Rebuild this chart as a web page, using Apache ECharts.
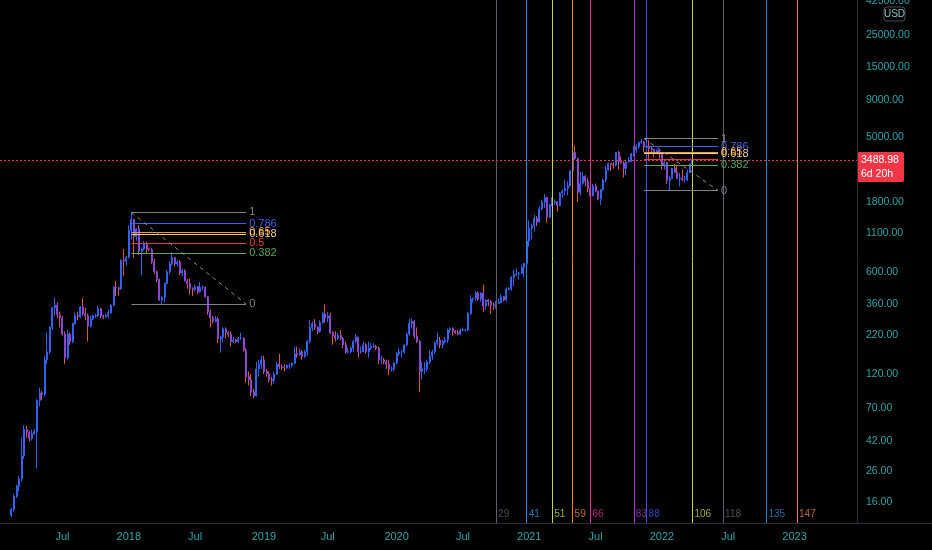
<!DOCTYPE html>
<html>
<head>
<meta charset="utf-8">
<script src="https://cdn.jsdelivr.net/npm/echarts@6/dist/echarts.min.js"></script>
<style>
  html, body { margin: 0; padding: 0; background: #000; }
  #chart { width: 932px; height: 550px; }
</style>
</head>
<body>
<div id="chart"></div>
<script>
// ETHUSD weekly candles, one row per week: [open, close, low, high]
var firstWeek = '2017-02-13';
var eth2017 = [
  [13.0,14.2,12.6,14.6],[14.2,17.5,13.8,18.2],[17.5,20.5,17.0,21.0],[20.5,23.0,19.0,24.0],
  [23.0,33.0,22.0,44.0],[33.0,50.0,31.5,53.5],[50.0,48.0,44.0,53.0],[48.0,43.5,41.5,49.0],
  [43.5,47.0,42.0,50.0],[47.0,48.5,46.0,50.5],[48.5,79.0,27.0,81.0],[79.0,89.0,72.0,97.0],
  [89.0,87.0,80.0,92.0],[87.0,150,84.0,160],[150,170,140,230],[170,250,165,255],
  [250,340,240,345],[340,355,300,400],[355,305,290,370],[305,290,250,320],
  [290,225,220,300],[225,155,140,235],[155,225,150,240],[225,200,190,230],
  [200,265,195,270],[265,300,260,315],[300,295,280,320],[295,345,290,350],
  [345,310,300,395],[310,300,280,340],[300,255,200,310],[255,285,250,300],
  [285,300,280,305],[300,300,290,310],[300,335,295,350],[335,300,290,340],
  [300,295,285,305],[295,300,290,310],[300,315,290,330],[315,355,310,360],
  [355,470,350,480],[470,465,410,520],[465,460,410,475],[460,720,450,730],
  [720,710,560,860],[710,755,660,770]
];
var eth2018 = [
  [755,1150,740,1250],[1150,1370,1000,1530],[1370,1050,750,1380],[1050,1180,980,1190],
  [1180,830,780,1250],[830,860,570,880],[860,940,840,975],[940,860,800,960],
  [860,850,830,880],[850,700,680,870],[700,600,580,735],[600,530,510,610],
  [530,385,380,540],[385,400,360,410],[400,500,370,505],[500,600,495,620],
  [600,680,580,710],[680,750,660,815],[750,680,650,760],[680,700,650,720],
  [700,590,570,720],[590,610,560,630],[610,520,515,625],[520,500,460,535],
  [500,460,420,540],[460,455,410,470],[455,475,440,490],[475,440,425,480],
  [440,470,430,510],[470,470,450,485],[470,405,400,475],[405,320,305,410],
  [320,290,250,330],[290,275,265,300],[275,285,270,300],[285,210,195,295],
  [210,215,168,220],[215,245,200,250],[245,230,210,250],[230,225,215,235],
  [225,200,185,235],[200,205,195,215],[205,200,195,208],[200,210,195,215],
  [210,210,205,230],[210,175,170,215],[175,115,105,180],[115,110,100,125],
  [110,90,85,120],[90,85,82,95],[85,130,84,145],[130,140,115,150],
  [140,150,130,160]
];
var eth2019 = [
  [150,125,120,160],[125,120,115,130],[120,110,105,125],[110,108,100,115],
  [108,120,103,125],[120,140,118,145],[140,135,130,165],[135,133,128,140],
  [133,132,125,140],[132,137,130,140],[137,137,130,142],[137,142,133,145],
  [142,165,140,185],[165,162,155,185],[162,170,160,180],[170,158,150,175],
  [158,170,155,175],[170,200,160,205],[200,250,195,280],[250,265,235,275],
  [265,250,240,285],[250,235,225,255],[235,270,230,280],[270,310,265,320],
  [310,290,270,360],[290,300,270,320],[300,230,225,315],[230,220,190,235],
  [220,210,200,235],[210,220,205,230],[220,210,205,240],[210,190,180,215],
  [190,170,165,200],[170,170,165,180],[170,180,165,185],[180,200,170,205],
  [200,215,195,225],[215,170,155,215],[170,170,165,185],[170,190,170,200],
  [190,170,165,195],[170,180,155,200],[180,185,175,195],[185,185,180,195],
  [185,180,175,190],[180,150,140,185],[150,150,140,160],[150,145,140,155],
  [145,140,130,150],[140,130,118,150],[130,130,125,135],[130,143,125,145]
];
var eth2020 = [
  [143,165,140,170],[165,170,160,180],[170,170,155,175],[170,190,165,190],
  [190,225,185,230],[225,265,220,285],[265,275,245,288],[275,218,210,280],
  [218,200,195,250],[200,125,90,205],[125,130,110,145],[130,130,120,145],
  [130,145,125,150],[145,160,140,175],[160,170,150,175],[170,195,165,200],
  [195,205,190,230],[205,190,180,215],[190,200,180,205],[200,205,195,215],
  [205,240,195,245],[240,245,230,250],[245,235,220,250],[235,230,225,240],
  [230,225,220,240],[225,240,220,245],[240,240,235,250],[240,240,235,245],
  [240,310,235,320],[310,390,305,415],[390,395,370,400],[395,430,380,445],
  [430,390,380,440],[390,430,375,435],[430,350,320,490],[350,385,330,390],
  [385,375,350,390],[375,355,310,385],[355,350,330,370],[350,365,335,380],
  [365,370,360,395],[370,405,365,420],[405,385,375,410],[385,455,375,470],
  [455,460,450,470],[460,550,445,560],[550,575,480,620],[575,580,560,635],
  [580,585,530,600],[585,640,580,670],[640,685,550,690],[685,975,685,1000]
];
var eth2021 = [
  [975,1190,890,1350],[1190,1230,1000,1280],[1230,1390,1130,1470],[1390,1315,1230,1440],
  [1315,1615,1300,1690],[1615,1800,1580,1870],[1800,1935,1640,2040],[1935,1420,1300,1960],
  [1420,1730,1400,1740],[1730,1790,1680,1940],[1790,1810,1720,1880],[1810,1700,1550,1820],
  [1700,2080,1690,2100],[2080,2140,1930,2200],[2140,2240,2000,2550],[2240,2320,2000,2500],
  [2320,2950,2300,2950],[2950,3930,2950,3970],[3930,3580,3500,4380],[3580,2100,1800,3580],
  [2100,2420,2000,2900],[2420,2700,2350,2900],[2700,2500,2300,2750],[2500,2240,2100,2620],
  [2240,1980,1700,2240],[1980,2320,1980,2400],[2320,2140,2100,2410],[2140,1900,1850,2150],
  [1900,2190,1720,2200],[2190,2550,2150,2600],[2550,3010,2450,3180],[3010,3310,2950,3330],
  [3310,3240,2950,3330],[3240,3220,3050,3370],[3220,3930,3160,3950],[3930,3410,3000,4030],
  [3410,3330,3300,3680],[3330,3060,2650,3450],[3060,3390,2750,3470],[3390,3410,3350,3650],
  [3410,3850,3390,3900],[3850,4080,3680,4370],[4080,4290,3900,4460],[4290,4610,4150,4660],
  [4610,4650,4500,4870],[4650,4270,3950,4660],[4270,4290,3940,4550],[4290,4190,3500,4780],
  [4190,4130,3920,4350],[4130,3920,3650,4140],[3920,4070,3900,4130],[4070,3830,3580,4130]
];
var eth2022 = [
  [3830,3190,3000,3880],[3190,3350,3000,3420],[3350,2540,2400,3400],[2540,2600,2160,2720],
  [2600,3060,2600,3080],[3060,2880,2860,3280],[2880,2620,2580,3200],[2620,2630,2300,2850],
  [2630,2550,2500,3000],[2550,2570,2450,2730],[2570,2860,2500,3000],[2860,3290,2850,3300],
  [3290,3488.98,3280,3490]
];
var lastPrice = 3488.98;
var countdown = '6d 20h';

// right scale labels
var yTicks = [16, 26, 42, 70, 120, 220, 360, 600, 1100, 1800, 5000, 9000, 15000, 25000, 42500];

// fib retracements: [from week, to week, high, low]
var fibLevels = [1, 0.786, 0.65, 0.618, 0.5, 0.382, 0];
var fib2018 = ['2018-01-08', '2018-11-19', 1530, 361];
var fib2021 = ['2021-11-15', '2022-06-06', 4900, 2160];

// time zones, counted in weeks from the covid low
var tzBase = '2020-03-16';
var tzCounts = [29, 41, 51, 59, 66, 83, 88, 106, 118, 135, 147];

var font = "'Liberation Sans',Arial,sans-serif";
var teal = '#2fa4a8';
var upCol = '#3361f0', downBody = '#8a47d2', downWick = '#d9583f';
var fibColors = ['#80838c', '#3f63e8', '#f39a2c', '#e9cf8c', '#e23a4c', '#5aa65c', '#80838c'];
var tzColors = ['#5d606b', '#2a8fe0', '#b9d75a', '#e8893a', '#e12f93', '#9b3dcc', '#3a56ea',
                '#b9d75a', '#5d606b', '#2a86c8', '#e0843c'];

var cats = [];
var t0 = Date.UTC(2017, 0, 16);
for (var i = 0; i < 336; i++) cats.push(new Date(t0 + i * 7 * 864e5).toISOString().slice(0, 10));

var rows = eth2017.concat(eth2018, eth2019, eth2020, eth2021, eth2022);
var first = cats.indexOf(firstWeek);
var wickData = [], bodyData = [];
cats.forEach(function (c, i) {
  var r = rows[i - first];
  if (i < first || !r) {
    wickData.push(['-', '-', '-', '-']);
    bodyData.push(['-', '-', '-', '-']);
    return;
  }
  wickData.push(r);
  bodyData.push([r[0], r[1], Math.min(r[0], r[1]), Math.max(r[0], r[1])]);
});

function fibLines(f, hideHalf) {
  var out = fibLevels.map(function (lv, k) {
    var p = f[3] + (f[2] - f[3]) * lv;
    return [{
      coord: [f[0], p],
      lineStyle: { color: fibColors[k], width: 1, type: 'solid' },
      label: {
        show: !(hideHalf && lv === 0.5), position: 'end', formatter: String(lv),
        color: fibColors[k], fontSize: 11, fontFamily: font, distance: 3
      }
    }, { coord: [f[1], p] }];
  });
  out.push([{
    coord: [f[0], f[2]],
    lineStyle: { color: '#8a8d96', width: 1, type: [4, 4] },
    label: { show: false }
  }, { coord: [f[1], f[3]] }]);
  return out;
}

var tzStart = cats.indexOf(tzBase);
var tzLines = tzCounts.map(function (n, k) {
  return { xAxis: cats[tzStart + n], lineStyle: { color: tzColors[k], width: 1, type: 'solid' }, label: { show: false } };
});
var tzLabels = tzCounts.map(function (n, k) {
  return { value: [cats[tzStart + n], 13.2], name: String(n), label: { color: tzColors[k] } };
});

var chart = echarts.init(document.getElementById('chart'));
var option = {
  backgroundColor: '#000',
  animation: false,
  textStyle: { fontFamily: font },
  grid: { left: 0, right: 75, top: 0, bottom: 27, containLabel: false, outerBoundsMode: 'none' },
  xAxis: {
    type: 'category',
    data: cats,
    boundaryGap: true,
    axisLine: { show: true, lineStyle: { color: '#2a2e39' } },
    axisTick: { show: false },
    splitLine: { show: false },
    axisLabel: {
      color: teal, fontSize: 11, fontFamily: font, margin: 8, hideOverlap: false,
      interval: function (idx, val) {
        var d = new Date(val + 'T00:00:00Z');
        return (d.getUTCMonth() === 0 || d.getUTCMonth() === 6) && d.getUTCDate() <= 7;
      },
      formatter: function (val) {
        var d = new Date(val + 'T00:00:00Z');
        return d.getUTCMonth() === 0 ? String(d.getUTCFullYear()) : 'Jul';
      }
    }
  },
  yAxis: {
    type: 'log',
    logBase: 10,
    position: 'right',
    min: 11.48,
    max: 43390,
    axisLine: { show: true, lineStyle: { color: '#2a2e39' } },
    axisTick: { show: false },
    splitLine: { show: false },
    axisLabel: {
      customValues: yTicks,
      color: teal, fontSize: 10.5, fontFamily: font, margin: 9,
      formatter: function (v) { return Number(v).toFixed(2); }
    }
  },
  series: [
    {
      name: 'wicks', type: 'candlestick', data: wickData, barWidth: 1,
      itemStyle: { color: upCol, color0: downWick, borderColor: upCol, borderColor0: downWick, borderWidth: 1 }
    },
    {
      name: 'bodies', type: 'candlestick', data: bodyData, barWidth: 1.5,
      itemStyle: { color: upCol, color0: downBody, borderColor: upCol, borderColor0: downBody, borderWidth: 1 },
      markLine: {
        silent: true, symbol: ['none', 'none'], animation: false,
        data: [{ yAxis: lastPrice, lineStyle: { color: '#f23645', width: 1, type: [2, 2] }, label: { show: false } }]
      }
    },
    {
      name: 'timezones', type: 'line', data: [],
      markLine: { silent: true, symbol: ['none', 'none'], animation: false, data: tzLines }
    },
    {
      name: 'fib2018', type: 'line', data: [],
      markLine: { silent: true, symbol: ['none', 'none'], animation: false, data: fibLines(fib2018, false) }
    },
    {
      name: 'fib2021', type: 'line', data: [],
      markLine: { silent: true, symbol: ['none', 'none'], animation: false, data: fibLines(fib2021, true) }
    },
    {
      name: 'tzLabels', type: 'scatter', data: tzLabels, symbolSize: 0, silent: true,
      label: { show: true, position: 'right', distance: 2, fontSize: 10, fontFamily: font, formatter: '{b}' }
    }
  ]
};
chart.setOption(option);

var py = chart.convertToPixel({ yAxisIndex: 0 }, lastPrice);
chart.setOption({
  graphic: [
    { type: 'line', shape: { x1: 857, y1: 523.5, x2: 932, y2: 523.5 }, style: { stroke: '#2a2e39', lineWidth: 1 } },
    { type: 'rect', shape: { x: 884, y: 7, width: 21, height: 14, r: 3 }, style: { fill: '#000', stroke: '#4a4e5a', lineWidth: 1 } },
    { type: 'text', x: 894.5, y: 14, style: { text: 'USD', fill: '#8cc0c4', font: '10px ' + font, align: 'center', verticalAlign: 'middle' } },
    { type: 'rect', shape: { x: 857, y: py - 8, width: 47, height: 30, r: 2 }, style: { fill: '#f23645' } },
    { type: 'text', x: 861, y: py, style: { text: lastPrice.toFixed(2), fill: '#fff', font: '10.5px ' + font, verticalAlign: 'middle' } },
    { type: 'text', x: 861, y: py + 14, style: { text: countdown, fill: '#fff', font: '10.5px ' + font, verticalAlign: 'middle' } }
  ]
});
</script>
</body>
</html>
